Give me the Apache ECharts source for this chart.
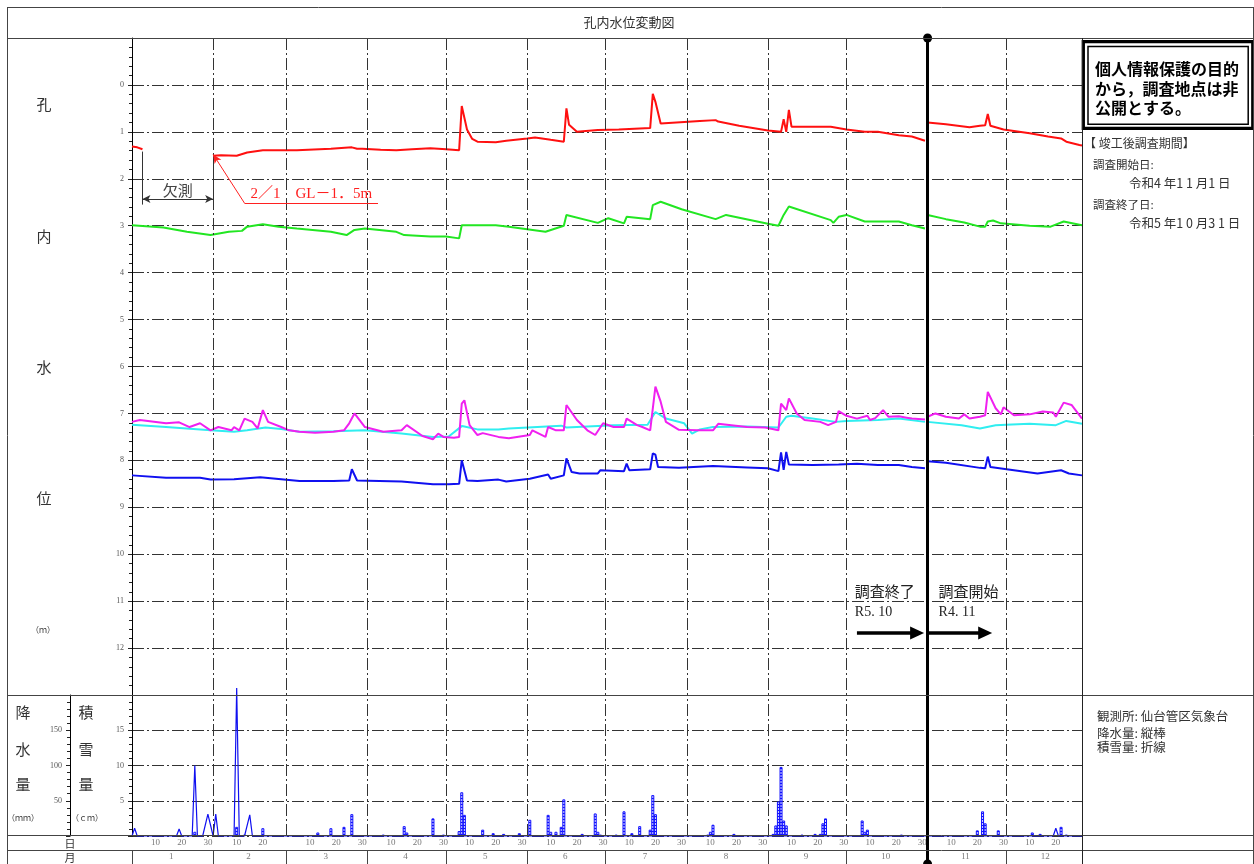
<!DOCTYPE html>
<html><head><meta charset="utf-8">
<script src="https://cdn.jsdelivr.net/npm/echarts@6/dist/echarts.min.js"></script>
<style>html,body{margin:0;padding:0;background:#fff}#c{width:1254px;height:864px}</style>
</head><body><div id="c"></div>
<script>
// ---------- data ----------
const monthDays = [31,28,31,30,31,30,31,31,30,31,30,31];
const monthNames = ['1','2','3','4','5','6','7','8','9','10','11','12'];
const dayTickDays = [10,20,30];
const axisEnd = '12/30';

// water levels below ground (m); null = gap
const red = [['1/1',1.31],['1/3',1.33],['1/5',1.37],['1/5',null],
['2/1',1.51],['2/4',1.50],['2/10',1.51],['2/14',1.44],['2/20',1.39],['3/1',1.39],['3/5',1.39],['3/18',1.36],['3/26',1.33],['3/28',1.36],['3/30',1.36],['4/6',1.38],['4/12',1.39],['4/18',1.37],['4/25',1.35],['5/1',1.37],['5/6',1.39],['5/7',0.45],['5/9',0.95],['5/11',1.15],['5/13',1.21],['5/20',1.22],['5/24',1.19],['6/1',1.14],['6/4',1.12],['6/10',1.17],['6/15',1.21],['6/16',0.50],['6/17',0.85],['6/20',1.0],['6/28',0.96],['7/6',0.95],['7/14',0.93],['7/18',0.92],['7/19',0.19],['7/20',0.36],['7/22',0.82],['7/28',0.80],['8/6',0.77],['8/12',0.75],['8/13',0.78],['8/21',0.87],['9/1',0.97],['9/6',1.0],['9/7',0.73],['9/8',1.0],['9/9',0.53],['9/10',0.89],['9/25',0.89],['10/1',0.95],['10/8',1.0],['10/13',1.0],['10/21',1.07],['10/26',1.10],['10/31',1.19],['10/31',null],
['11/1',0.80],['11/8',0.84],['11/17',0.90],['11/21',0.87],['11/23',0.86],['11/24',0.62],['11/25',0.87],['11/30',0.95],['12/10',1.03],['12/17',1.10],['12/22',1.14],['12/24',1.21],['12/29',1.28],['12/30',1.29]];

const green = [['1/1',2.99],['1/13',3.04],['1/22',3.13],['1/31',3.20],['2/7',3.13],['2/12',3.11],['2/14',3.02],['2/20',2.97],['2/26',3.02],['3/5',3.06],['3/18',3.13],['3/24',3.20],['3/27',3.09],['3/31',3.06],['4/12',3.13],['4/15',3.20],['4/25',3.23],['5/1',3.23],['5/6',3.27],['5/7',2.99],['5/20',2.99],['5/25',3.02],['6/8',3.13],['6/15',3.0],['6/16',2.77],['6/28',2.94],['7/2',2.84],['7/8',2.95],['7/9',2.81],['7/18',2.86],['7/19',2.56],['7/22',2.49],['7/30',2.65],['8/12',2.86],['8/16',2.77],['9/1',2.96],['9/5',3.0],['9/7',2.77],['9/9',2.59],['9/25',2.88],['9/26',2.94],['9/28',2.81],['10/1',2.77],['10/8',2.91],['10/21',2.91],['10/26',2.99],['10/31',3.06],['10/31',null],
['11/1',2.77],['11/8',2.86],['11/15',2.93],['11/21',3.02],['11/23',3.02],['11/24',2.91],['11/26',2.89],['11/29',2.95],['12/10',3.0],['12/18',3.02],['12/23',2.91],['12/30',2.99]];

const magenta = [['1/1',7.18],['1/4',7.14],['1/14',7.21],['1/19',7.19],['1/23',7.29],['1/27',7.21],['1/31',7.36],['2/3',7.29],['2/8',7.36],['2/9',7.29],['2/11',7.36],['2/13',7.11],['2/16',7.18],['2/18',7.32],['2/20',6.93],['2/22',7.18],['2/27',7.29],['3/2',7.36],['3/6',7.39],['3/12',7.41],['3/19',7.39],['3/23',7.36],['3/25',7.21],['3/27',7.0],['3/31',7.29],['4/7',7.39],['4/14',7.36],['4/16',7.25],['4/22',7.48],['4/26',7.55],['4/28',7.43],['4/30',7.50],['5/4',7.52],['5/6',7.50],['5/7',6.79],['5/8',6.72],['5/10',7.25],['5/13',7.46],['5/15',7.42],['5/21',7.50],['5/25',7.53],['6/2',7.46],['6/3',7.36],['6/8',7.50],['6/9',7.29],['6/12',7.36],['6/15',7.36],['6/16',6.82],['6/20',7.14],['6/24',7.36],['6/27',7.46],['6/30',7.21],['7/4',7.29],['7/8',7.29],['7/9',7.11],['7/13',7.25],['7/15',7.29],['7/18',7.36],['7/20',6.43],['7/22',6.75],['7/24',7.18],['7/29',7.35],['8/5',7.36],['8/11',7.36],['8/13',7.22],['8/18',7.25],['8/24',7.29],['8/31',7.30],['9/5',7.36],['9/6',6.79],['9/8',6.93],['9/9',6.68],['9/12',7.0],['9/15',7.14],['9/21',7.18],['9/24',7.25],['9/27',7.18],['9/28',6.95],['10/1',7.05],['10/5',7.11],['10/9',7.05],['10/10',7.14],['10/12',7.10],['10/15',6.93],['10/17',7.07],['10/21',7.06],['10/24',7.09],['10/26',7.11],['10/31',7.13],['10/31',null],
['11/1',7.07],['11/4',7.0],['11/8',7.07],['11/13',7.11],['11/15',7.02],['11/17',7.11],['11/21',7.07],['11/23',7.04],['11/24',6.54],['11/27',6.89],['11/29',7.02],['11/30',6.87],['12/4',7.04],['12/10',7.02],['12/15',6.96],['12/19',6.98],['12/20',7.07],['12/23',6.77],['12/26',6.82],['12/30',7.11]];

const cyan = [['1/1',7.24],['1/14',7.29],['1/31',7.36],['2/9',7.39],['2/14',7.36],['2/21',7.30],['2/27',7.33],['3/6',7.39],['3/19',7.38],['3/31',7.36],['4/14',7.43],['4/26',7.50],['5/2',7.49],['5/7',7.27],['5/8',7.28],['5/13',7.34],['5/21',7.34],['5/25',7.32],['6/14',7.26],['6/16',7.30],['7/4',7.25],['7/17',7.24],['7/20',6.97],['7/24',7.11],['7/31',7.21],['8/3',7.43],['8/6',7.34],['8/11',7.29],['8/24',7.28],['9/5',7.30],['9/8',7.07],['9/10',7.05],['9/18',7.11],['9/27',7.18],['10/1',7.16],['10/13',7.14],['10/21',7.11],['10/31',7.18],['10/31',null],
['11/1',7.18],['11/14',7.25],['11/21',7.32],['11/27',7.25],['12/1',7.24],['12/10',7.22],['12/20',7.25],['12/24',7.16],['12/30',7.22]];

const blue = [['1/1',8.32],['1/14',8.37],['1/27',8.37],['1/31',8.41],['2/9',8.40],['2/19',8.36],['3/6',8.44],['3/19',8.44],['3/25',8.43],['3/26',8.19],['3/28',8.43],['4/14',8.45],['4/26',8.51],['5/2',8.51],['5/6',8.50],['5/7',8.0],['5/9',8.43],['5/13',8.44],['5/21',8.41],['5/24',8.45],['6/2',8.39],['6/9',8.30],['6/10',8.39],['6/15',8.32],['6/16',7.96],['6/18',8.25],['6/21',8.28],['6/28',8.28],['6/29',8.21],['7/8',8.23],['7/9',8.07],['7/10',8.21],['7/18',8.19],['7/19',7.85],['7/20',7.88],['7/21',8.14],['7/29',8.16],['8/11',8.12],['8/24',8.15],['9/1',8.17],['9/5',8.23],['9/6',7.83],['9/7',8.20],['9/8',7.82],['9/9',8.09],['9/18',8.10],['9/28',8.09],['10/5',8.07],['10/13',8.10],['10/21',8.10],['10/26',8.14],['10/31',8.17],['10/31',null],
['11/1',8.02],['11/8',8.05],['11/21',8.16],['11/23',8.17],['11/24',7.92],['11/25',8.14],['12/4',8.21],['12/13',8.28],['12/22',8.21],['12/25',8.28],['12/30',8.32]];

// precipitation (mm, bars) and snow depth (cm, line)
const precip = [['1/25',6],['2/10',13],['2/13',2],['2/20',11],['3/13',5],['3/18',11],['3/23',13],['3/26',31],['4/7',2],['4/15',14],['4/16',5],['4/26',25],['4/30',2],['5/6',7],['5/7',62],['5/8',30],['5/15',9],['5/19',4],['5/23',3],['5/29',4],['6/2',23],['6/9',30],['6/10',6],['6/12',6],['6/14',13],['6/15',52],['6/22',3],['6/27',32],['6/28',6],['6/29',2],['7/5',2],['7/8',35],['7/11',4],['7/14',14],['7/18',9],['7/19',58],['7/20',31],['8/9',2],['8/10',6],['8/11',16],['8/14',1],['8/19',3],['9/3',3],['9/4',15],['9/5',49],['9/6',98],['9/7',22],['9/8',15],['9/14',2],['9/19',3],['9/21',3],['9/22',18],['9/23',25],['10/7',22],['10/8',6],['10/9',9],['10/16',1],['10/22',2],['11/18',1],['11/20',8],['11/22',35],['11/23',18],['11/28',8],['12/7',1],['12/11',5],['12/14',3],['12/22',13],['12/24',2]];
const snow = [['1/1',0],['1/2',1.1],['1/3',0],['1/18',0],['1/19',1],['1/20',0],['1/24',0],['1/25',10],['1/26',0],['1/28',0],['1/30',3.1],['2/1',0],['2/2',3.1],['2/3',0],['2/9',0],['2/10',21],['2/11',0],['2/13',0],['2/15',3],['2/16',0],['12/19',0],['12/20',1.1],['12/21',0],['12/30',0]];

// annotations
const missStart='1/5', missEnd='2/1', glDate='2/1', glLevel=1.48;
const endArrow=['10/5','10/28'], startArrow=['11/1','11/23'], arrowLevel=11.68;
const surveyEndDate='11/1';

// ---------- helpers ----------
const monthStart=[]; {let a=0; for(const d of monthDays){monthStart.push(a); a+=d;}}
function toDay(s){const [m,d]=s.split('/').map(Number); return monthStart[m-1]+d-1;}
function conv(arr){return arr.map(([s,v])=>[toDay(s), v==null?'-':v]);}
const XMAX = toDay(axisEnd);
const SPLIT = toDay(surveyEndDate);
const FS = "'Liberation Serif','Noto Sans CJK JP',serif";
const FJ = "'Noto Sans CJK JP',sans-serif";
const dashDot=[12,3,2,3];
const gridLS={color:'#333',width:1,type:dashDot};
const monthLineData = monthStart.filter(d=>d>0 && d!==SPLIT).map(d=>({xAxis:d}));

const pat=document.createElement('canvas'); pat.width=4; pat.height=3;
{const g=pat.getContext('2d'); g.fillStyle='#dcdcff'; g.fillRect(0,0,4,3); g.fillStyle='#1010ff'; g.fillRect(0,0,4,1);}

const dayLabels=[], monthLabels=[];
monthDays.forEach((n,m)=>{
  dayTickDays.forEach(d=>{const v=monthStart[m]+d-1; if(d<=n && v<XMAX) dayLabels.push([v,1.5,String(d)]);});
  monthLabels.push([monthStart[m]+n/2-0.5,0.5,monthNames[m]]);
});

// ---------- graphic (frame & static text) ----------
const G=[];
function L(x1,y1,x2,y2,w,c){G.push({type:'line',shape:{x1,y1,x2,y2},style:{stroke:c||'#444',lineWidth:w||1},z:100,silent:true});}
function T(x,y,t,size,o){o=o||{};G.push({type:'text',x,y,style:{text:t,fontSize:size,fill:o.fill||'#333',fontFamily:o.ff||FJ,fontWeight:o.fw||'normal',align:o.align||'center',verticalAlign:'middle'},z:100,silent:true});}
L(7.5,7,7.5,864); L(7,7.5,1253,7.5); L(1253.5,7,1253.5,864);
L(7,38.5,1253,38.5); L(7,695.5,1253,695.5); L(7,835.5,1253,835.5); L(7,850.5,1253,850.5);
L(1082.5,38,1082.5,864,1,'#222');
T(629,22,'孔内水位変動図',13);
T(44,104,'孔',15); T(44,236,'内',15); T(44,367,'水',15); T(44,498,'位',15); T(43,630,'（ｍ）',8);
T(23,712,'降',15); T(23,749,'水',15); T(23,784,'量',15); T(23,818,'（ｍｍ）',8);
T(86,712,'積',15); T(86,749,'雪',15); T(86,784,'量',15); T(87,818,'（ｃｍ）',8);
T(70,844,'日',11); T(70,858,'月',11);
G.push({type:'rect',shape:{x:1083.3,y:41.7,width:169.5,height:86.6},style:{fill:'#fff',stroke:'#000',lineWidth:3.3},z:99,silent:true});
G.push({type:'rect',shape:{x:1088,y:46.5,width:160.2,height:77.7},style:{fill:'none',stroke:'#000',lineWidth:1.5},z:100,silent:true});
T(1095,69,'個人情報保護の目的',16,{fw:'bold',align:'left',fill:'#000'});
T(1095,89,'から，調査地点は非',16,{fw:'bold',align:'left',fill:'#000'});
T(1095,108,'公開とする。',16,{fw:'bold',align:'left',fill:'#000'});
T(1084,143,'【 竣工後調査期間】',12,{align:'left'});
T(1093,165,'調査開始日:',11.5,{align:'left'});
T(1129,183,'令和4 年1 1 月1 日',12.5,{align:'left'});
T(1093,205,'調査終了日:',11.5,{align:'left'});
T(1129,223,'令和5 年1 0 月3 1 日',12.5,{align:'left'});
T(1097,716,'観測所: 仙台管区気象台',12.5,{align:'left'});
T(1097,733,'降水量: 縦棒',12.5,{align:'left'});
T(1097,747,'積雪量: 折線',12.5,{align:'left'});

// ---------- chart ----------
const chart=echarts.init(document.getElementById('c'));
const yCommon={axisLine:{show:true,lineStyle:{color:'#000',width:1}},axisTick:{show:true,length:4,lineStyle:{color:'#222'}},
  minorTick:{show:true,splitNumber:5,length:3,lineStyle:{color:'#222'}},minorSplitLine:{show:false}};
const thin={color:'#333',width:1,type:'solid'};
const S=()=>({type:'line',showSymbol:false,symbol:'none',z:3,clip:true});
const option={
  animation:false,
  backgroundColor:'#fff',
  grid:[{left:132,top:38,width:950,height:657},{left:132,top:695,width:950,height:141},{left:132,top:836,width:950,height:28}],
  xAxis:[0,1,2].map(i=>({gridIndex:i,type:'value',min:0,max:XMAX,show:false})),
  yAxis:[
    Object.assign({gridIndex:0,type:'value',inverse:true,min:-1,max:13,interval:1,
      axisLabel:{formatter:v=>(v<0||v>12)?'':String(v),fontSize:8,color:'#555',fontFamily:FS,margin:8},
      splitLine:{show:true,lineStyle:gridLS}},yCommon),
    Object.assign({gridIndex:1,type:'value',min:0,max:20,interval:5,
      axisLabel:{formatter:v=>(v<=0||v>=20)?'':String(v),fontSize:8,color:'#555',fontFamily:FS,margin:8},
      splitLine:{show:true,lineStyle:gridLS}},yCommon),
    Object.assign({gridIndex:1,type:'value',min:0,max:200,interval:50,position:'left',offset:62,
      axisLabel:{formatter:v=>(v<=0||v>=200)?'':String(v),fontSize:8,color:'#555',fontFamily:FS,margin:8},
      splitLine:{show:false}},yCommon),
    {gridIndex:2,type:'value',min:0,max:2,show:false}
  ],
  graphic:G,
  series:[
    {type:'line',xAxisIndex:0,yAxisIndex:0,data:[],z:1,
      markLine:{silent:true,symbol:'none',label:{show:false},lineStyle:gridLS,data:monthLineData}},
    Object.assign(S(),{name:'red',xAxisIndex:0,yAxisIndex:0,data:conv(red),lineStyle:{color:'#ff1010',width:2},
      markLine:{silent:true,symbol:'none',symbolSize:7,label:{show:false},lineStyle:thin,data:[
        [{coord:[toDay(missStart),1.42]},{coord:[toDay(missStart),2.55]}],
        [{coord:[toDay(missEnd),1.52]},{coord:[toDay(missEnd),2.55]}],
        [{coord:[toDay(missStart),2.43],symbol:'arrow',symbolSize:[6,8]},{coord:[toDay(missEnd),2.43],symbol:'arrow',symbolSize:[6,8],
          label:{show:true,position:'middle',formatter:'欠測',fontSize:15,color:'#444',fontFamily:FJ,distance:1}}],
        [{coord:[toDay('2/13'),2.52],lineStyle:{color:'#ff2020',width:1,type:'solid'}},{coord:[toDay(glDate),glLevel],symbol:'arrow',symbolSize:[6,9]}],
        [{coord:[toDay('2/13'),2.52],lineStyle:{color:'#ff2020',width:1,type:'solid'}},{coord:[toDay('4/5'),2.52],
          label:{show:true,position:'middle',formatter:'2／1　GL－1．5m',fontSize:15,color:'#ff2020',fontFamily:FS,distance:2}}],
        [{coord:[toDay(endArrow[0]),arrowLevel],lineStyle:{color:'#000',width:3.5,type:'solid'}},{coord:[toDay(endArrow[1]),arrowLevel],symbol:'triangle',symbolSize:[13,14]}],
        [{coord:[toDay(startArrow[0]),arrowLevel],lineStyle:{color:'#000',width:3.5,type:'solid'}},{coord:[toDay(startArrow[1]),arrowLevel],symbol:'triangle',symbolSize:[13,14]}]
      ]},
      markPoint:{silent:true,symbol:'circle',symbolSize:1,itemStyle:{color:'rgba(0,0,0,0)'},
        label:{show:true,position:'right',distance:0,formatter:'{b}',color:'#222'},
        data:[
          {name:'調査終了',coord:[toDay('10/4'),10.79],label:{fontSize:15,fontFamily:FJ}},
          {name:'R5. 10',coord:[toDay('10/4'),11.24],label:{fontSize:14,fontFamily:FS}},
          {name:'調査開始',coord:[toDay('11/5'),10.79],label:{fontSize:15,fontFamily:FJ}},
          {name:'R4. 11',coord:[toDay('11/5'),11.24],label:{fontSize:14,fontFamily:FS}}
        ]}}),
    Object.assign(S(),{name:'green',xAxisIndex:0,yAxisIndex:0,data:conv(green),lineStyle:{color:'#22e622',width:2}}),
    Object.assign(S(),{name:'cyan',xAxisIndex:0,yAxisIndex:0,data:conv(cyan),lineStyle:{color:'#30eef0',width:2}}),
    Object.assign(S(),{name:'magenta',xAxisIndex:0,yAxisIndex:0,data:conv(magenta),lineStyle:{color:'#f020f0',width:2}}),
    Object.assign(S(),{name:'blue',xAxisIndex:0,yAxisIndex:0,data:conv(blue),lineStyle:{color:'#1010f0',width:2}}),
    {type:'line',xAxisIndex:0,yAxisIndex:0,data:[],z:10,
      markLine:{silent:true,symbol:['circle','none'],symbolSize:9,label:{show:false},lineStyle:{color:'#000',width:3,type:'solid'},
        data:[[{coord:[SPLIT,-1]},{coord:[SPLIT,13]}]]}},
    // precipitation panel
    {type:'line',xAxisIndex:1,yAxisIndex:1,data:[],z:1,
      markLine:{silent:true,symbol:'none',label:{show:false},lineStyle:gridLS,data:monthLineData}},
    {type:'bar',name:'precip',xAxisIndex:1,yAxisIndex:2,data:conv(precip),barWidth:3,z:3,
      itemStyle:{color:{image:pat,repeat:'repeat'},borderColor:'#1010ff',borderWidth:1}},
    {type:'line',name:'snow',xAxisIndex:1,yAxisIndex:1,data:conv(snow),showSymbol:false,symbol:'none',clip:false,z:4,
      lineStyle:{color:'#1010f0',width:1.2}},
    {type:'line',xAxisIndex:1,yAxisIndex:1,data:[],z:10,
      markLine:{silent:true,symbol:'none',label:{show:false},lineStyle:{color:'#000',width:3,type:'solid'},
        data:[[{coord:[SPLIT,0]},{coord:[SPLIT,20]}]]}},
    // label rows
    {type:'line',xAxisIndex:2,yAxisIndex:3,data:[],z:10,
      markLine:{silent:true,symbol:'none',label:{show:false},lineStyle:{color:'#444',width:1,type:'solid'},
        data:monthStart.filter(d=>d!==SPLIT).map(d=>[{coord:[d,0]},{coord:[d,1]}]).concat([
          [{coord:[SPLIT,0],symbol:'circle',symbolSize:9,lineStyle:{color:'#000',width:3,type:'solid'}},{coord:[SPLIT,2]}]])}},
    {type:'scatter',xAxisIndex:2,yAxisIndex:3,symbolSize:1,itemStyle:{color:'rgba(0,0,0,0)'},silent:true,
      data:dayLabels.concat(monthLabels),
      label:{show:true,position:'inside',formatter:p=>p.value[2],fontSize:9,color:'#555',fontFamily:FS}}
  ]
};
chart.setOption(option);
</script></body></html>
